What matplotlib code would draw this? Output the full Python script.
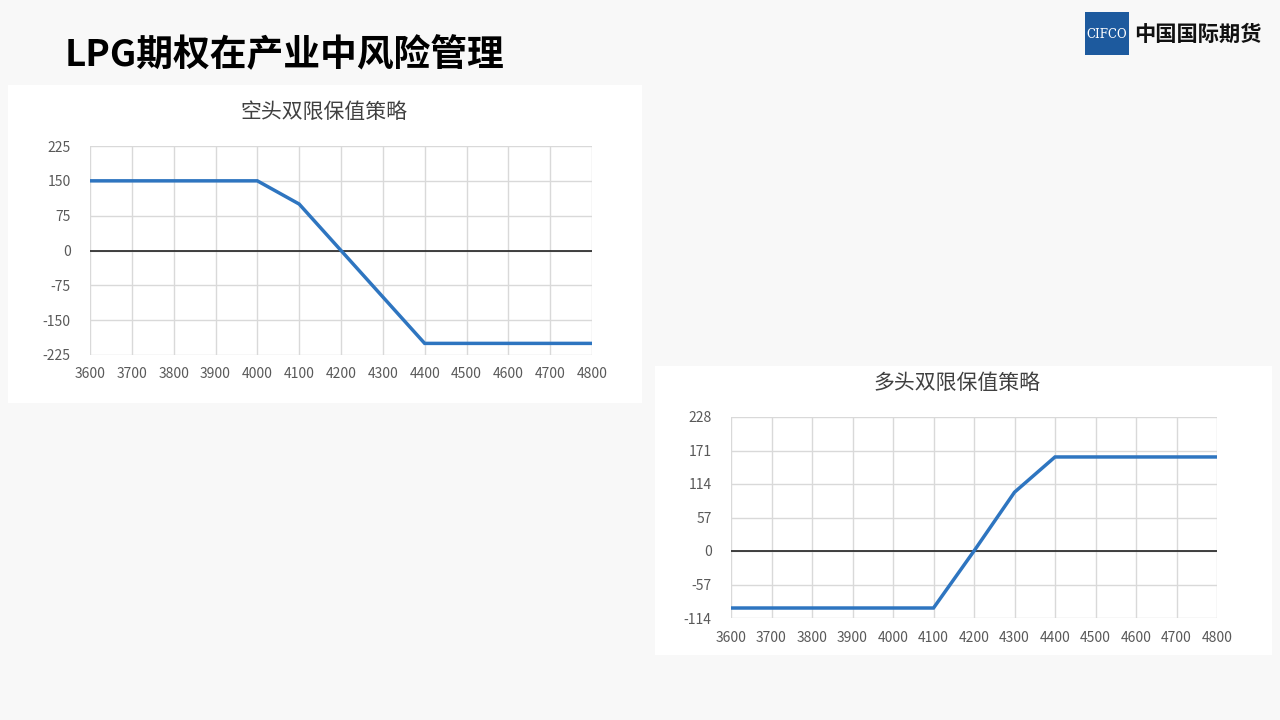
import matplotlib
matplotlib.use('Agg')
import matplotlib.pyplot as plt
from matplotlib.patches import Rectangle

plt.rcParams['font.family'] = ['Noto Sans CJK SC', 'DejaVu Sans']
plt.rcParams['axes.unicode_minus'] = False

# 数据
prices = [3600, 3700, 3800, 3900, 4000, 4100, 4200, 4300, 4400, 4500, 4600, 4700, 4800]
short_pnl = [150, 150, 150, 150, 150, 100, 0, -100, -200, -200, -200, -200, -200]
long_pnl = [-97, -97, -97, -97, -97, -97, 0, 100, 160, 160, 160, 160, 160]
short_yticks = [-225, -150, -75, 0, 75, 150, 225]
long_yticks = [-114, -57, 0, 57, 114, 171, 228]

W, H = 1280, 720
fig = plt.figure(figsize=(12.8, 7.2), dpi=100)
fig.patch.set_facecolor('#f8f8f8')


def fx(x):
    return x / W


def fy(y):
    return 1 - y / H


# 白色底板
fig.patches.append(Rectangle((fx(8), fy(403)), fx(634), 318 / H, transform=fig.transFigure,
                             facecolor='white', edgecolor='none', zorder=-5))
fig.patches.append(Rectangle((fx(655), fy(655)), fx(617), 289 / H, transform=fig.transFigure,
                             facecolor='white', edgecolor='none', zorder=-5))

# 大标题
fig.text(fx(65), fy(56), 'LPG期权在产业中风险管理', fontsize=26.5, fontweight='bold',
         color='black', ha='left', va='center')

# logo
fig.patches.append(Rectangle((fx(1085), fy(55)), fx(44), 43 / H, transform=fig.transFigure,
                             facecolor='#1d5a9e', edgecolor='none', zorder=1))
fig.text(fx(1107), fy(34), 'CIFCO', fontsize=8.5, color='white', family='DejaVu Serif',
         ha='center', va='center', zorder=2)
fig.text(fx(1134), fy(34), '中国国际期货', fontsize=15.3, fontweight='bold', color='#111111',
         ha='left', va='center')


def draw(rect, y, yticks, title, title_pos):
    ax = fig.add_axes(rect, zorder=3)
    ax.set_facecolor('white')
    ax.plot(prices, y, color='#2e75c0', linewidth=2.5, zorder=3, solid_joinstyle='miter')
    ax.axhline(0, color='#222222', linewidth=1.2, zorder=2)
    ax.set_xlim(prices[0], prices[-1])
    ax.set_ylim(yticks[0], yticks[-1])
    ax.set_xticks(prices)
    ax.set_yticks(yticks)
    ax.grid(True, color='#d9d9d9', linewidth=1, zorder=1)
    ax.set_axisbelow(True)
    for s in ax.spines.values():
        s.set_visible(False)
    ax.tick_params(length=0, labelsize=10, colors='#595959')
    ax.tick_params(axis='x', pad=9)
    ax.tick_params(axis='y', pad=14)
    fig.text(title_pos[0], title_pos[1], title, fontsize=15, fontweight=500, color='#404040',
             ha='center', va='center')
    return ax


draw([fx(90), fy(355), fx(502), 209 / H], short_pnl, short_yticks,
     '空头双限保值策略', (fx(324), fy(112)))
draw([fx(731), fy(618), fx(486), 201 / H], long_pnl, long_yticks,
     '多头双限保值策略', (fx(957), fy(383)))

plt.savefig('out.png', dpi=100, facecolor=fig.get_facecolor())
